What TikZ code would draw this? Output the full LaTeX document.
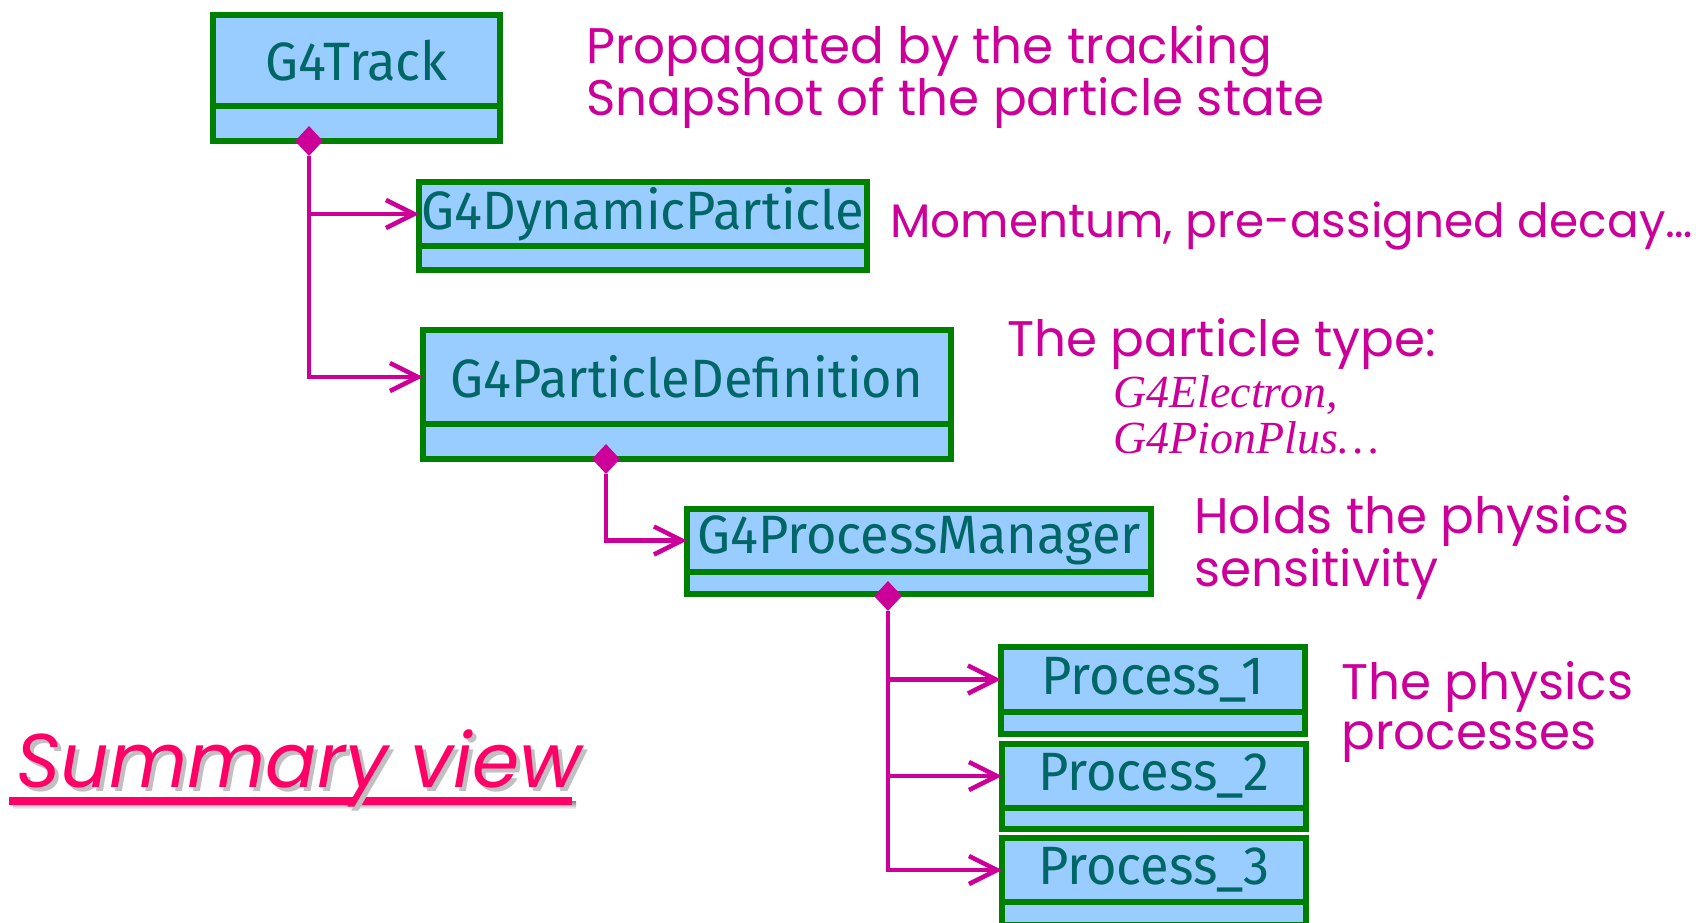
\documentclass[tikz,border=0pt]{standalone}
\usepackage{fontspec}
\usetikzlibrary{shapes.geometric,arrows.meta}
\newfontfamily\lblfont{Poppins}
\newfontfamily\clsfont[FakeStretch=0.97]{Fira Sans}
\newfontfamily\serfont{Liberation Serif}
\definecolor{boxfill}{HTML}{99CCFF}
\definecolor{boxline}{HTML}{008000}
\definecolor{boxtext}{HTML}{006666}
\definecolor{mag}{HTML}{CC0099}
\definecolor{hot}{HTML}{FF0066}
\definecolor{shade}{HTML}{C0C0C0}
\tikzset{
  ctop/.style={draw=boxline, fill=boxfill, line width=5.5pt, anchor=north west, inner sep=0pt, outer sep=0pt,
    font=\clsfont\fontsize{54}{54}\selectfont, text=boxtext},
  cbot/.style={draw=boxline, fill=boxfill, line width=5.5pt, anchor=north west, inner sep=0pt, outer sep=0pt},
  conn/.style={draw=mag, line width=4.5pt, -{Straight Barb[length=28pt,width=28pt,line width=4.5pt]}},
  dia/.style={diamond, fill=mag, inner sep=0pt, minimum width=28pt, minimum height=30pt},
  lbl/.style={anchor=base west, inner sep=0pt, text=mag, align=left,
    font=\lblfont\fontsize{50}{50}\selectfont},
  ital/.style={anchor=base west, inner sep=0pt, text=mag, align=left,
    font=\serfont\itshape\fontsize{46}{46}\selectfont},
}
\begin{document}
\begin{tikzpicture}[x=1pt,y=-1pt]
\useasboundingbox (0,0) rectangle (1702,923);
\begin{scope}
\clip (0,0) rectangle (1702,923);
% class boxes
\node[ctop, minimum width=287pt, minimum height=91pt] (T) at (213,15) {G4Track};
\node[cbot, minimum width=287pt, minimum height=35pt] (Tb) at (213,106) {};
\node[ctop, minimum width=448pt, minimum height=64pt] (DP) at (419,182) {G4DynamicParticle};
\node[cbot, minimum width=448pt, minimum height=24pt] (DPb) at (419,246) {};
\node[ctop, minimum width=528pt, minimum height=94pt] (PD) at (423,330) {G4ParticleDefinition};
\node[cbot, minimum width=528pt, minimum height=35pt] (PDb) at (423,424) {};
\node[ctop, minimum width=464pt, minimum height=63pt] (PM) at (687,509) {G4ProcessManager};
\node[cbot, minimum width=464pt, minimum height=22pt] (PMb) at (687,572) {};
\node[ctop, minimum width=304pt, minimum height=65pt] (P1) at (1001,647) {Process\_1};
\node[cbot, minimum width=304pt, minimum height=22pt] (P1b) at (1001,712) {};
\node[ctop, minimum width=304pt, minimum height=64pt] (P2) at (1002,744) {Process\_2};
\node[cbot, minimum width=304pt, minimum height=21pt] (P2b) at (1002,808) {};
\node[ctop, minimum width=304pt, minimum height=64pt] (P3) at (1002,838) {Process\_3};
\node[cbot, minimum width=304pt, minimum height=23pt] (P3b) at (1002,902) {};
\end{scope}
% aggregation diamonds
\node[dia] (dT) at (309,141) {};
\node[dia] (dPD) at (606,459) {};
\node[dia] (dPM) at (888,596) {};
% connectors
\draw[conn] (dT.south) |- (DP.west);
\draw[conn] (dT.south) |- (PD.west);
\draw[conn] (dPD.south) |- (PM.west);
\draw[conn] (dPM.south) |- (P1.west);
\draw[conn] (dPM.south) |- (P2.west);
\draw[conn] (dPM.south) |- (P3.west);
% labels (base anchor = baseline of the last line)
\node[lbl] (l1) at (586,116) {Propagated by the tracking\\Snapshot of the particle state};
\node[lbl, font=\lblfont\fontsize{47}{47}\selectfont] (l2) at (890,237) {Momentum, pre-assigned decay…};
\node[lbl] (l3) at (1007,356) {The particle type:};
\node[ital] (l4) at (1113,453) {G4Electron,\\G4PionPlus…};
\node[lbl] (l5) at (1194,586) {Holds the physics\\sensitivity};
\node[lbl] (l6) at (1341,749) {The physics\\processes};
% title with shadow
\fill[shade] (13,801) rectangle (576,809);
\fill[hot] (9,797) rectangle (572,805);
\node[anchor=base west, inner sep=0pt, text=hot, font=\lblfont\itshape\fontsize{76}{76}\selectfont] (title) at (16,787)
  {\rlap{\kern4pt\raisebox{-4pt}{\color{shade}Summary view}}Summary view};
\end{tikzpicture}
\end{document}
